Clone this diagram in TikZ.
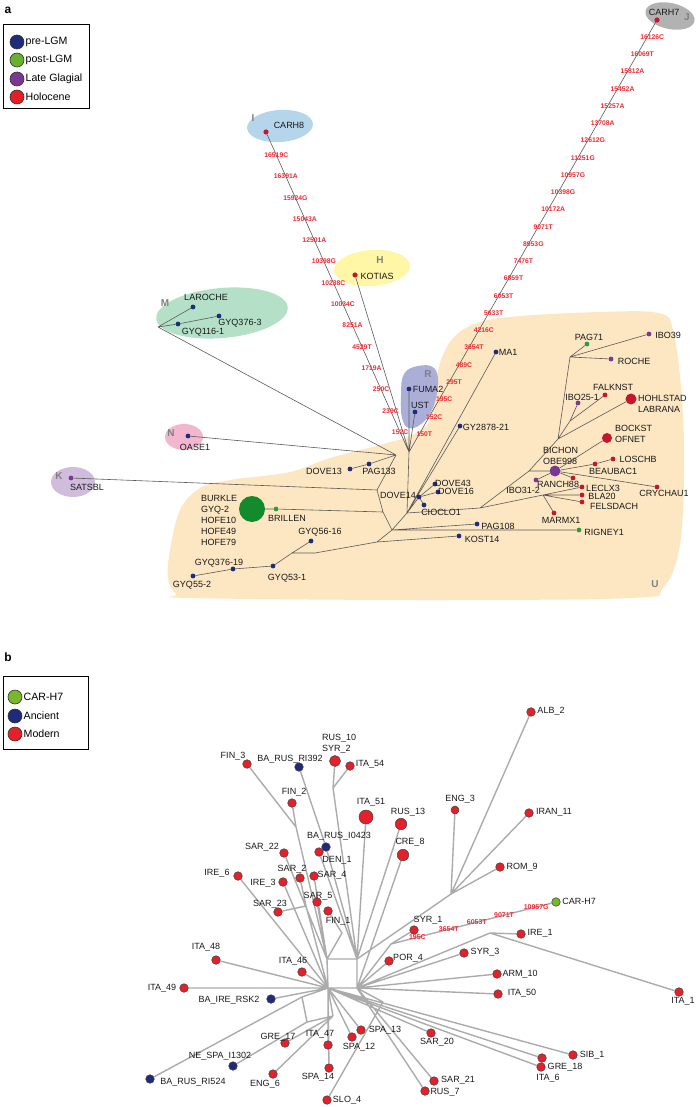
\documentclass[tikz,border=0pt]{standalone}
\usepackage{fontspec}
\setmainfont{Liberation Sans}
\usetikzlibrary{backgrounds}

\definecolor{preLGM}{HTML}{1F2C7C}
\definecolor{postLGM}{HTML}{2E9B3C}
\definecolor{lateGl}{HTML}{7B3794}
\definecolor{holo}{HTML}{C5162E}
\definecolor{burkleGreen}{HTML}{138A2E}
\definecolor{legPost}{HTML}{6AB22E}
\definecolor{legHolo}{HTML}{E31F26}
\definecolor{modern}{HTML}{E5202A}
\definecolor{ancient}{HTML}{1E2B7C}
\definecolor{carGreen}{HTML}{78B82A}
\definecolor{mutRed}{HTML}{EE2A34}
\definecolor{treeGray}{HTML}{5A5A5A}
\definecolor{netGray}{HTML}{ABABAB}
\definecolor{blobI}{HTML}{B4D5EA}
\definecolor{blobJ}{HTML}{B2B2B2}
\definecolor{blobH}{HTML}{FFF6A6}
\definecolor{blobM}{HTML}{B3E0C6}
\definecolor{blobN}{HTML}{F3B6CF}
\definecolor{blobK}{HTML}{D2BCDD}
\definecolor{blobR}{HTML}{ABAFD8}
\definecolor{blobU}{HTML}{FDE6C2}

\begin{document}
\begin{tikzpicture}[x=1pt,y=-1pt,
    dot/.style={circle,inner sep=0pt,minimum size=4.8pt},
    ndot/.style={circle,draw=black!75,line width=0.5pt,inner sep=0pt},
    lab/.style={inner sep=0pt,text=black!90,font=\fontsize{9}{11}\selectfont},
    mut/.style={inner sep=0pt,text=mutRed,font=\fontsize{6.8}{8}\selectfont\bfseries},
    tag/.style={inner sep=0pt,text=black!50,font=\fontsize{10}{12}\selectfont\bfseries},
    tree/.style={draw=treeGray,line width=0.6pt},
    net/.style={draw=netGray,line width=1.4pt},
    legdot/.style={circle,draw=black!80,line width=0.6pt,inner sep=0pt,minimum size=14pt},
    legtext/.style={inner sep=0pt,anchor=west,font=\fontsize{10.6}{12}\selectfont},
    panel/.style={inner sep=0pt,font=\fontsize{12}{14}\selectfont\bfseries}
  ]
  \useasboundingbox (0,0) rectangle (697,1107);

  \begin{scope}[on background layer]
    \fill[blobU] plot[smooth cycle,tension=0.6] coordinates {(190,598) (420,600) (632,598) (663,588) (679,550) (684,480) (682,400) (673,330) (658,313) (600,312) (520,316) (480,322) (455,336) (441,360) (435,390) (430,420) (412,435) (380,445) (330,458) (290,472) (230,480) (200,488) (180,510) (170,550) (168,578) (176,594)};
    \fill[blobR] plot[smooth cycle,tension=0.7] coordinates {(404,374) (418,366) (434,368) (438,385) (432,410) (421,424) (409,428) (402,418) (401,395)};
    \fill[blobI,rotate around={4:(280,126)}] (280,126) ellipse [x radius=33, y radius=16];
    \fill[blobJ,rotate around={-12:(670,16)}] (670,16) ellipse [x radius=25, y radius=13];
    \fill[blobH,rotate around={4:(372,268)}] (372,268) ellipse [x radius=38, y radius=18];
    \fill[blobM,rotate around={5:(222,313)}] (222,313) ellipse [x radius=66, y radius=25];
    \fill[blobN] (184,437) ellipse [x radius=19, y radius=13];
    \fill[blobK] (73,482) ellipse [x radius=22, y radius=15];
  \end{scope}

  \node[panel] (a) at (8,10) {a};
  \node[panel] (b) at (8,657) {b};

  \draw[line width=1pt] (3,25) rectangle (89,109);
  \foreach \n/\y/\c/\t in {pre/42/preLGM/pre-LGM, post/60/legPost/post-LGM,
                           late/79/lateGl/Late Glagial, holo/97/legHolo/Holocene} {
    \node[legdot,fill=\c] (leg-\n) at (17,\y) {};
    \node[legtext] (leg-\n-t) at (25.5,\y) {\t};
  }
  \draw[line width=1pt] (3,676) rectangle (88,749);
  \foreach \n/\y/\c/\t in {car/697/carGreen/CAR-H7, anc/716/ancient/Ancient, mod/734/modern/Modern} {
    \node[legdot,fill=\c] (legb-\n) at (15,\y) {};
    \node[legtext] (legb-\n-t) at (23.5,\y) {\t};
  }

  \foreach \n/\x/\y in {I/253/118, J/687/17, H/380/260, M/165/303, N/171/433, K/59/476, R/428/374, U/655/584}
    \node[tag] (tag-\n) at (\x,\y) {\n};

  \foreach \n/\x/\y/\c/\s in {
      carh7/657/20/holo/5.2pt, carh8/266/132/holo/5.2pt, kotias/355/275/holo/5.2pt,
      laroche/193/307/preLGM/4.8pt, gyq376-3/219/316/preLGM/4.8pt, gyq116-1/178/324/preLGM/4.8pt,
      oase1/188/436/preLGM/4.8pt, satsbl/71/478/lateGl/4.8pt, fuma2/409/389/preLGM/4.8pt,
      ust/415/412/preLGM/4.8pt, ma1/496/352/preLGM/4.8pt, gy2878/460/426/preLGM/4.8pt,
      dove13/350/469/preLGM/4.8pt, pag133/369/464/preLGM/4.8pt, dove43/435/484/preLGM/4.8pt,
      dove16/438/492/preLGM/4.8pt, dove14/419/497/preLGM/4.8pt, cioclo1/424/505/preLGM/4.8pt,
      pag108/477/524/preLGM/4.8pt, kost14/459/536/preLGM/4.8pt, burkle/252/509/burkleGreen/26pt,
      brillen/276/509/postLGM/4.8pt, gyq56-16/311/541/preLGM/4.8pt, gyq53-1/273/566/preLGM/4.8pt,
      gyq376-19/233/569/preLGM/4.8pt, gyq55-2/193/576/preLGM/4.8pt, pag71/587/344/postLGM/4.8pt,
      ibo39/649/334/lateGl/4.8pt, roche/611/359/lateGl/4.8pt, ibo25-1/578/403/lateGl/4.8pt,
      falknst/605/395/holo/4.8pt, hohlstad/631/399/holo/11pt, bockst/607/438/holo/10pt,
      bichon/555/471/lateGl/11pt, loschb/613/459/holo/4.8pt, beaubac1/595/464/holo/4.8pt,
      crychau1/657/487/holo/4.8pt, ranch88/573/478/holo/4.8pt, ibo31-2/536/480/lateGl/4.8pt,
      leclx3/582/487/holo/4.8pt, bla20/582/495/holo/4.8pt, felsdach/582/502/holo/4.8pt,
      marmx1/554/513/holo/4.8pt, rigney1/579/530/postLGM/4.8pt}
    \node[dot,fill=\c,minimum size=\s] (\n) at (\x,\y) {};

  \foreach \n/\x/\y/\t in {
      carh7/664/12/CARH7, carh8/289/125/CARH8, kotias/377/276/KOTIAS, laroche/206/297/LAROCHE,
      gyq376-3/240/323/GYQ376-3, gyq116-1/203/332/GYQ116-1, oase1/195/447/OASE1,
      satsbl/87/487/SATSBL, fuma2/428/389/FUMA2, ust/420/405/UST, ma1/508/352/MA1,
      gy2878/486/427/GY2878-21, dove13/324/471/DOVE13, pag133/379/471/PAG133,
      dove43/453/483/DOVE43, dove16/456/491/DOVE16, dove14/398/495/DOVE14,
      cioclo1/441/512/CIOCLO1, pag108/498/526/PAG108, kost14/482/539/KOST14,
      brillen/287/518/BRILLEN, gyq56-16/320/532/GYQ56-16, gyq53-1/287/578/GYQ53-1,
      gyq376-19/219/563/GYQ376-19, gyq55-2/192/585/GYQ55-2, pag71/589/337/PAG71,
      ibo39/668/335/IBO39, roche/634/361/ROCHE, ibo25-1/582/397/IBO25-1,
      falknst/613/387/FALKNST, loschb/638/459/LOSCHB, beaubac1/613/471/BEAUBAC1,
      crychau1/664/493/CRYCHAU1, ranch88/558/484/RANCH88, ibo31-2/523/490/IBO31-2,
      leclx3/603/488/LECLX3, bla20/602/496/BLA20, felsdach/614/506/FELSDACH,
      marmx1/561/520/MARMX1, rigney1/604/532/RIGNEY1}
    \node[lab] (\n-t) at (\x,\y) {\t};
  \node[lab,anchor=west,align=left] (burkle-t) at (201,520) {BURKLE\\GYQ-2\\HOFE10\\HOFE49\\HOFE79};
  \node[lab,anchor=west,align=left] (hohlstad-t) at (638,403.5) {HOHLSTAD\\LABRANA};
  \node[lab,anchor=west,align=left] (bockst-t) at (615,433.5) {BOCKST\\OFNET};
  \node[lab,anchor=west,align=left] (bichon-t) at (543,456) {BICHON\\OBE998};

  \foreach \n/\x/\y in {jB/409/452, jA/396/455, mj/158/327, j3/377/490, j4/383/512, j5/392/530,
                        j6/407/513, j7/377/542, jg/315/553, j8/292/553, rc1/480/508, rc2/529/471,
                        rq/558/439, rr/570/421, rp/570/357, rk/543/495}
    \coordinate (\n) at (\x,\y);

  \begin{scope}[on background layer]
    \draw[tree] (carh7) -- (jB) (carh8) -- (jB) (kotias) -- (jB) (fuma2) -- (jB) (ust) -- (jB)
      (jA) -- (mj) (mj) -- (laroche) (mj) -- (gyq116-1) (gyq116-1) -- (gyq376-3)
      (jA) -- (oase1) (jA) -- (pag133) (pag133) -- (dove13) (jA) -- (j3)
      (j3) -- (satsbl) (j3) -- (j4) (j4) -- (brillen) (brillen) -- (burkle) (j4) -- (j5)
      (j5) -- (pag108) (j5) -- (rigney1) (j5) -- (j7) (j5) -- (j6) (j6) -- (jB)
      (j7) -- (kost14) (j7) -- (jg) (jg) -- (j8) (j8) -- (gyq56-16) (j8) -- (gyq53-1)
      (gyq53-1) -- (gyq376-19) (gyq376-19) -- (gyq55-2)
      (j6) -- (dove14) (dove14) -- (dove43) (dove14) -- (dove16) (dove14) -- (cioclo1)
      (j6) -- (gy2878) (j6) -- (ma1) (j6) -- (rc1)
      (rc1) -- (rc2) (rc2) -- (bichon) (rc2) -- (rq) (rq) -- (rp)
      (rp) -- (pag71) (rp) -- (ibo39) (rp) -- (roche)
      (rq) -- (rr) (rr) -- (ibo25-1) (rr) -- (falknst) (rq) -- (hohlstad)
      (bichon) -- (bockst) (bichon) -- (beaubac1) (beaubac1) -- (loschb) (bichon) -- (crychau1)
      (bichon) -- (ranch88) (bichon) -- (ibo31-2)
      (rc1) -- (rk) (rk) -- (leclx3) (rk) -- (bla20) (rk) -- (felsdach) (rk) -- (marmx1);
  \end{scope}

  \foreach \m [count=\i] in {16126C,16069T,15812A,15452A,15257A,13708A,12612G,11251G,10957G,10398G,
                             10172A,9071T,8953G,7476T,6859T,6053T,5633T,4216C,3654T,489C,295T,195C,152C,150T} {
    \pgfmathsetmacro\p{0.0394+0.03995*(\i-1)}
    \path (carh7.center) -- (jB) node[mut,pos=\p,xshift=5pt] (m7-\i) {\m};
  }
  \foreach \m [count=\i] in {16519C,16391A,15924G,15043A,12501A,10398G,10238C,10034C,8251A,4529T,
                             1719A,250C,239C,152C} {
    \pgfmathsetmacro\p{0.072+0.0666*(\i-1)}
    \path (carh8.center) -- (jB) node[mut,pos=\p] (m8-\i) {\m};
  }

  \foreach \n/\x/\y/\c/\s in {
      fin3/247/764/modern/8.6pt, barusri392/299/767/ancient/8.6pt, rus10/335/761/modern/11pt,
      ita54/350/766/modern/8.6pt, fin2/292/803/modern/8.6pt, ita51/366/817/modern/14pt,
      rus13/401/824/modern/11.5pt, cre8/403/855/modern/11.5pt, barusi0423/326/847/ancient/8.6pt,
      den1/319/852/modern/8.6pt, sar22/284/853/modern/8.6pt, ire6/238/876/modern/8.6pt,
      ire3/283/882/modern/8.6pt, sar2/300/878/modern/8.6pt, sar4/314/876/modern/8.6pt,
      sar5/317/902/modern/8.6pt, sar23/278/912/modern/8.6pt, fin1/328/911/modern/8.6pt,
      eng3/455/810/modern/8pt, alb2/531/712/modern/8.6pt, iran11/529/813/modern/8.6pt,
      rom9/500/867/modern/8.6pt, carh7b/556/902/carGreen/8.6pt, syr1/414/930/modern/8.6pt,
      ire1/521/934/modern/8.6pt, ita1/679/992/modern/8.6pt, por4/389/961/modern/8.6pt,
      syr3/464/953/modern/8.6pt, arm10/497/974/modern/8.6pt, ita50/498/994/modern/8.6pt,
      ita48/216/960/modern/8.6pt, ita46/302/972/modern/8.6pt, ita49/184/988/modern/8.6pt,
      bairersk2/271/999/ancient/8.6pt, nespai1302/233/1066/ancient/8.6pt,
      barusri524/150/1079/ancient/8.6pt, gre17/285/1043/modern/8.6pt, eng6/273/1074/modern/8.6pt,
      ita47/328/1045/modern/8.6pt, spa14/329/1068/modern/8.6pt, slo4/327/1100/modern/8.6pt,
      spa12/352/1037/modern/8.6pt, spa13/361/1030/modern/8.6pt, sar20/431/1033/modern/8.6pt,
      sar21/434/1081/modern/8.6pt, rus7/425/1091/modern/8.6pt, sib1/573/1055/modern/8.6pt,
      gre18/542/1058/modern/8.6pt, ita6/541/1067/modern/8.6pt}
    \node[ndot,fill=\c,minimum size=\s] (\n) at (\x,\y) {};

  \foreach \n/\x/\y/\t in {
      fin3/233/756/FIN\_3, barusri392/290/759/BA\_RUS\_RI392, ita54/370/764/ITA\_54,
      fin2/294/792/FIN\_2, ita51/371/802/ITA\_51, rus13/408/812/RUS\_13, cre8/410/842/CRE\_8,
      barusi0423/339/836/BA\_RUS\_I0423, den1/337/860/DEN\_1, sar22/262/847/SAR\_22,
      ire6/217/873/IRE\_6, ire3/263/883/IRE\_3, sar2/292/869/SAR\_2, sar4/332/875/SAR\_4,
      sar5/318/896/SAR\_5, sar23/270/904/SAR\_23, fin1/338/921/FIN\_1, eng3/460/799/ENG\_3,
      alb2/551/711/ALB\_2, iran11/554/812/IRAN\_11, rom9/522/867/ROM\_9, carh7b/579/901/CAR-H7,
      syr1/428/920/SYR\_1, ire1/540/933/IRE\_1, ita1/683/1001/ITA\_1, por4/408/958/POR\_4,
      syr3/485/952/SYR\_3, arm10/520/974/ARM\_10, ita50/522/993/ITA\_50, ita48/206/947/ITA\_48,
      ita46/293/961/ITA\_46, ita49/162/988/ITA\_49, bairersk2/229/1000/BA\_IRE\_RSK2,
      nespai1302/220/1056/NE\_SPA\_I1302, barusri524/193/1082/BA\_RUS\_RI524,
      gre17/278/1037/GRE\_17, eng6/265/1084/ENG\_6, ita47/320/1034/ITA\_47,
      spa14/318/1077/SPA\_14, slo4/347/1100/SLO\_4, spa12/359/1047/SPA\_12,
      spa13/385/1030/SPA\_13, sar20/437/1042/SAR\_20, sar21/458/1080/SAR\_21,
      rus7/445/1092/RUS\_7, sib1/592/1055/SIB\_1, gre18/565/1067/GRE\_18, ita6/548/1078/ITA\_6}
    \node[lab] (\n-t) at (\x,\y) {\t};
  \node[lab,anchor=west,align=left] (rus10-t) at (322,743.5) {RUS\_10\\SYR\_2};

  \foreach \n/\x/\y in {tl/327/959, tr/357/959, h1/328/988, h2/357/988, k1/296/827, k3/342/933,
                        k4/333/788, k5/306/906, jE/451/894, jF/391/944, jI/490/933,
                        q1/302/997, q2/307/1022, q3/333/1016, jS/383/1002}
    \coordinate (\n) at (\x,\y);

  \begin{scope}[on background layer]
    \draw[net] (tl) -- (tr) -- (h2) -- (h1) -- cycle
      (fin3) -- (k1) (fin2) -- (k1) (k1) -- (tl)
      (barusri392) -- (barusi0423) (barusi0423) -- (tr) (den1) -- (tr)
      (sar22) -- (tl) (sar4) -- (tl) (sar5) -- (tl) (fin1) -- (k3) (k3) -- (tl)
      (sar2) -- (k5) (sar23) -- (k5) (k5) -- (h1) (ire3) -- (h1) (ire6) -- (h1)
      (rus10) -- (k4) (ita54) -- (k4) (k4) -- (tr) (ita51) -- (tr) (rus13) -- (tr) (cre8) -- (h2)
      (eng3) -- (jE) (alb2) -- (jE) (iran11) -- (jE) (rom9) -- (jE) (jE) -- (tr)
      (carh7b) -- (jF) (syr1) -- (jF) (jF) -- (h2)
      (ire1) -- (jI) (ita1) -- (jI) (jI) -- (h2)
      (por4) -- (h2) (syr3) -- (h2) (arm10) -- (h2) (ita50) -- (h2)
      (ita49) -- (h1) (ita48) -- (h1) (ita46) -- (h1) (bairersk2) -- (h1)
      (barusri524) -- (q1) (q1) -- (h1) (q1) -- (q2) (q2) -- (q3) (q3) -- (h1)
      (nespai1302) -- (q2) (gre17) -- (q3) (eng6) -- (q3)
      (ita47) -- (h1) (spa14) -- (h1) (spa12) -- (h1) (spa13) -- (h1) (sar20) -- (h1)
      (slo4) -- (jS) (jS) -- (h2) (sar21) -- (h2) (rus7) -- (h2)
      (sib1) -- (h1) (gre18) -- (h1) (ita6) -- (h1);
  \end{scope}

  \foreach \m/\p in {10957G/0.12, 9071T/0.315, 6053T/0.48, 3654T/0.65, 195C/0.84}
    \path (carh7b.center) -- (jF) node[mut,pos=\p,font=\fontsize{7}{8}\selectfont\bfseries] (mb-\m) {\m};
\end{tikzpicture}
\end{document}
